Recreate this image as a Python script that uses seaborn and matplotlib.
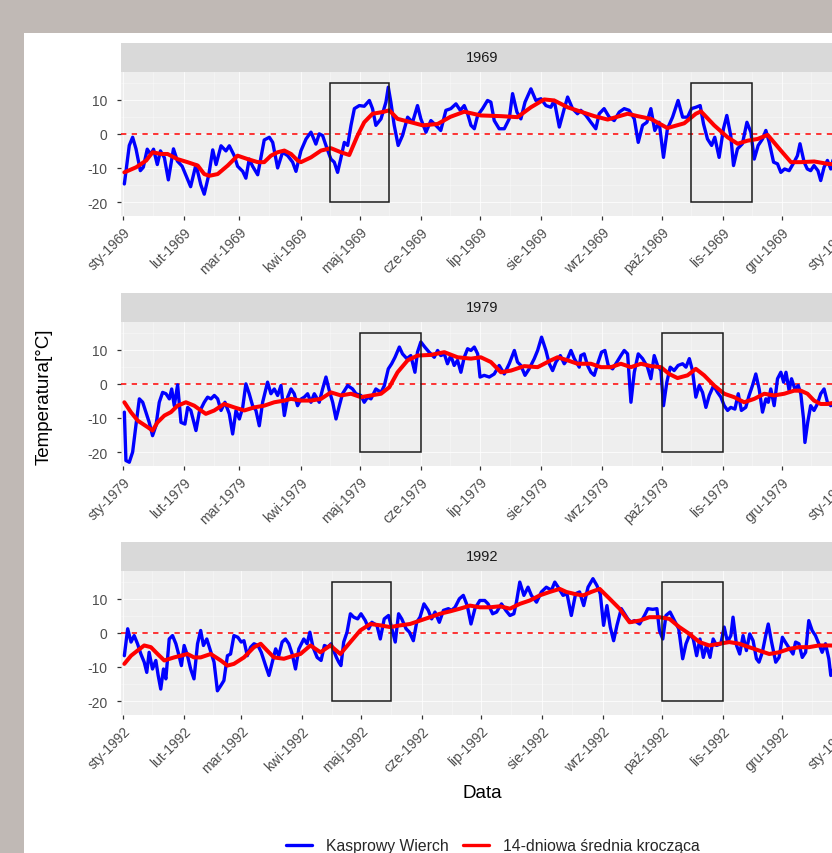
import numpy as np
import pandas as pd
import matplotlib
matplotlib.use("Agg")
import matplotlib.pyplot as plt
import matplotlib.dates as mdates
from matplotlib.patches import Rectangle
from matplotlib.lines import Line2D
import seaborn as sns

# ---------------------------------------------------------------------------
# Data: daily air temperature at Kasprowy Wierch (day offset from 1 January, °C)
# ---------------------------------------------------------------------------
years = [1969, 1979, 1992]
month_abbr = ["sty", "lut", "mar", "kwi", "maj", "cze",
              "lip", "sie", "wrz", "paź", "lis", "gru"]

doy_1969 = [0.7, 3.2, 4.9, 6.6, 8.8, 10.3, 12.3, 14.0, 15.5, 17.4, 19.0, 21.0, 23.0, 25.6,
            27.6, 30.0, 34.3, 37.0, 39.5, 41.2, 43.5, 45.5, 47.2, 49.7, 52.2, 53.9, 56.4,
            58.1, 60.7, 62.3, 64.0, 65.7, 68.3, 71.6, 74.2, 75.9, 78.4, 80.9, 83.5, 86.0,
            87.7, 90.2, 92.8, 95.3, 97.8, 99.5, 101.2, 102.9, 105.4, 107.1, 108.8, 110.2,
            112.2, 113.9, 115.6, 117.3, 119.8, 122.3, 124.9, 126.5, 128.2, 130.8, 133.3,
            134.5, 135.8, 137.5, 139.5, 141.7, 144.3, 146.8, 149.3, 151.0, 153.6, 156.1,
            158.6, 161.1, 163.7, 166.2, 168.8, 171.0, 173.0, 174.7, 176.4, 178.1, 179.8,
            182.3, 184.8, 186.5, 188.2, 190.7, 193.3, 195.8, 197.5, 199.7, 201.7, 203.8,
            206.8, 209.3, 211.9, 214.4, 216.9, 218.6, 221.2, 223.7, 225.4, 227.9, 230.4,
            232.1, 234.7, 237.2, 239.7, 241.4, 243.9, 246.5, 249.0, 251.6, 254.1, 256.6,
            259.2, 261.2, 263.4, 265.6, 267.6, 269.6, 271.8, 274.0, 276.0, 278.6, 281.4,
            283.7, 286.2, 288.2, 290.4, 292.6, 294.3, 296.3, 298.4, 300.0, 302.2, 304.4,
            306.1, 308.1, 309.5, 311.5, 314.0, 316.3, 318.3, 320.0, 322.0, 324.2, 325.9,
            327.6, 329.8, 331.8, 333.5, 335.4, 337.7, 340.2, 341.9, 343.2, 345.3, 346.9,
            348.6, 350.3, 352.3, 353.7, 355.4, 357.1, 358.8, 360.5, 362.5]
temp_1969 = [-14.7, -3.4, -1.0, -4.4, -10.8, -9.8, -4.5, -6.0, -4.5, -9.0, -5.0, -7.0, -13.5, -4.4,
             -8.0, -9.5, -15.5, -9.0, -15.0, -17.7, -12.0, -4.7, -9.0, -3.5, -5.0, -3.5, -6.4,
             -9.5, -11.0, -13.0, -7.4, -9.5, -12.0, -1.8, -1.0, -2.5, -10.0, -5.4, -6.4, -8.3,
             -11.0, -5.0, -1.5, 0.5, -3.0, 0.0, -0.5, -3.4, -7.4, -8.3, -11.3, -7.8,
             -2.5, -3.4, 2.5, 7.4, 8.3, 8.1, 9.8, 7.4, 2.5, 4.4, 9.3,
             13.7, 9.3, 2.5, -3.4, -0.5, 4.9, 3.4, 8.3, 4.4, 0.5, 3.9,
             2.5, 1.0, 6.9, 7.4, 8.8, 6.9, 8.3, 5.9, 2.5, 1.5, 5.4,
             7.4, 9.8, 9.3, 3.9, 1.5, 1.5, 4.4, 11.8, 6.4, 4.4, 9.3,
             13.2, 9.8, 10.3, 8.3, 7.8, 9.8, 2.0, 7.4, 10.8, 7.4, 5.9,
             6.9, 5.4, 3.4, 1.5, 5.9, 7.4, 4.9, 3.9, 6.4, 7.4, 6.9,
             4.4, -2.5, 2.5, 3.4, 7.4, 1.0, 3.4, -6.9, 1.5, 4.9, 9.8,
             4.9, 4.9, 7.4, 7.8, 8.3, 2.9, -1.5, -3.4, -1.0, -6.9, 1.5,
             5.4, -0.5, -9.3, -4.4, -2.9, 3.4, 0.5, -7.4, -3.4, -1.5, 1.0,
             -2.5, -8.3, -8.8, -11.3, -10.3, -10.8, -8.3, -6.4, -2.9, -8.3, -10.3,
             -10.8, -9.3, -10.8, -13.7, -9.8, -7.8, -10.3, -6.4, -8.0]

doy_1979 = [0.7, 1.5, 3.2, 4.9, 6.6, 8.3, 10.0, 11.6, 13.3, 15.0, 16.7, 18.4, 20.1, 21.8,
            23.5, 24.7, 26.0, 27.7, 29.4, 31.4, 32.8, 34.4, 37.0, 38.7, 41.2, 42.9, 44.6,
            46.3, 48.0, 49.7, 51.7, 53.9, 55.6, 57.3, 59.0, 60.7, 62.3, 64.0, 65.7, 67.4,
            69.1, 70.8, 73.3, 75.0, 76.7, 78.4, 80.1, 81.8, 83.5, 85.2, 86.8, 88.5, 90.2,
            91.9, 93.6, 95.3, 97.0, 99.5, 101.2, 102.9, 104.6, 106.3, 108.0, 109.7, 111.3,
            113.9, 116.4, 118.1, 120.6, 122.3, 124.0, 125.7, 128.2, 130.8, 132.5, 134.5,
            136.2, 137.9, 140.1, 141.7, 143.9, 145.9, 148.0, 149.3, 151.0, 153.0, 155.2,
            157.8, 159.5, 161.1, 162.9, 164.5, 166.2, 167.9, 169.6, 171.3, 173.0, 174.7,
            176.4, 178.1, 179.8, 181.0, 183.1, 185.7, 188.2, 190.7, 193.3, 195.8, 198.4,
            200.0, 201.7, 203.8, 205.9, 208.5, 210.2, 212.2, 214.4, 216.1, 217.8, 219.5,
            221.7, 223.7, 225.4, 227.1, 228.8, 231.3, 232.1, 233.8, 235.5, 237.2, 238.9,
            240.9, 242.6, 244.3, 246.0, 248.2, 250.4, 252.4, 254.1, 255.8, 257.5, 259.2,
            261.2, 263.4, 265.9, 267.6, 269.3, 271.0, 272.7, 274.0, 275.7, 277.4, 279.4,
            281.4, 283.7, 285.4, 287.1, 288.7, 290.4, 292.1, 293.8, 295.5, 297.2, 299.4,
            301.4, 303.1, 304.8, 306.5, 308.1, 310.2, 311.9, 313.5, 315.7, 317.4, 319.1,
            320.8, 322.5, 324.2, 325.9, 327.1, 328.4, 330.1, 331.8, 333.5, 334.9, 336.1,
            337.7, 338.9, 340.6, 342.3, 343.6, 345.0, 345.7, 347.1, 348.6, 350.3, 352.0,
            353.7, 355.4, 357.1, 358.8, 359.8, 361.5]
temp_1979 = [-8.3, -22.5, -23.0, -20.0, -12.0, -4.4, -5.4, -8.3, -11.3, -15.2, -12.3, -5.4, -2.5, -2.9,
             -4.4, -1.5, -6.4, -0.3, -11.3, -11.8, -6.9, -7.8, -13.7, -8.3, -5.4, -3.9, -4.4,
             -3.4, -4.4, -7.8, -5.4, -8.8, -14.7, -7.8, -10.3, -6.9, 0.0, -2.9, -6.4, -7.8,
             -12.3, -5.4, 0.5, -2.9, -1.5, -3.4, -0.5, -9.3, -3.9, -1.5, -2.9, -6.4, -4.5,
             -3.9, -2.9, -5.4, -2.9, -5.4, -1.5, 2.0, -2.0, -5.4, -10.3, -6.4, -2.9,
             -0.5, -1.5, -2.9, -3.4, -5.4, -3.9, -4.4, -1.5, -2.5, -0.5, 4.4,
             5.9, 7.8, 10.8, 8.8, 7.4, 8.3, 3.4, 9.3, 12.3, 10.8, 9.3,
             7.8, 9.8, 8.3, 8.8, 5.9, 8.3, 5.4, 6.9, 3.4, 7.8, 10.3,
             9.8, 10.8, 8.8, 2.0, 2.5, 2.0, 2.9, 5.4, 2.9, 5.9, 9.8,
             6.4, 5.4, 2.5, 4.4, 7.4, 9.8, 13.7, 9.8, 5.9, 3.9, 6.4,
             8.3, 5.9, 7.4, 9.8, 7.4, 4.9, 8.3, 8.8, 5.4, 3.4, 2.5,
             6.4, 9.3, 9.8, 5.4, 4.4, 6.4, 8.3, 9.8, 8.8, -5.4, 3.4,
             8.8, 7.4, 4.9, 1.5, 8.3, 5.4, 3.9, -6.4, 0.5, 4.9, 3.9,
             5.4, 5.9, 4.9, 7.4, 3.9, -3.9, -0.5, -2.5, -6.9, -3.4, -0.5,
             -2.5, -3.9, -6.4, -7.8, -6.9, -7.4, -2.9, -7.8, -6.9, -3.4, -0.5,
             2.9, -1.5, -8.3, -4.4, -5.4, -1.5, -6.4, 1.5, 3.4, 0.5, 3.4,
             -2.0, 1.5, -1.5, -0.5, -2.9, -10.3, -17.2, -11.3, -6.4, -7.8, -5.9,
             -2.9, -1.5, -5.4, -6.4, -5.9, -5.0]

doy_1992 = [0.7, 2.4, 4.1, 5.7, 7.4, 9.1, 10.8, 12.1, 13.3, 15.0, 16.7, 17.9, 19.2, 20.6,
            21.8, 23.5, 25.2, 26.9, 28.5, 29.7, 31.1, 32.8, 34.4, 36.1, 37.9, 39.5, 40.9,
            42.6, 44.2, 46.3, 48.0, 49.7, 51.3, 53.1, 54.7, 56.4, 58.4, 60.1, 61.5, 63.2,
            64.9, 66.6, 68.6, 70.3, 72.5, 74.2, 75.9, 77.6, 79.2, 80.9, 82.6, 84.3, 86.0,
            87.7, 89.4, 91.9, 93.6, 95.0, 96.6, 98.7, 100.7, 102.4, 104.1, 105.8, 107.1,
            108.5, 109.7, 110.8, 112.2, 113.9, 115.6, 117.3, 119.3, 121.0, 123.2, 124.9,
            126.5, 129.1, 130.8, 132.8, 135.0, 136.7, 138.4, 140.1, 141.7, 143.9, 145.6,
            147.6, 149.3, 151.0, 153.0, 155.2, 156.9, 158.6, 160.8, 162.9, 165.4, 167.0,
            168.8, 171.0, 173.0, 175.0, 176.9, 178.9, 181.4, 183.9, 185.6, 187.9, 189.9,
            192.4, 194.6, 196.7, 198.7, 200.0, 201.7, 203.8, 205.9, 207.6, 210.2, 212.7,
            215.2, 217.8, 219.5, 221.2, 223.7, 225.7, 227.9, 230.1, 232.1, 234.2, 236.4,
            238.9, 240.9, 242.6, 244.3, 246.0, 247.7, 249.4, 251.1, 253.3, 255.0, 256.6,
            258.3, 260.0, 262.6, 265.1, 266.8, 269.3, 271.4, 272.7, 274.4, 276.0, 278.1,
            280.3, 282.5, 284.5, 286.2, 288.2, 289.9, 291.6, 293.3, 295.0, 296.6, 298.4,
            300.0, 301.7, 303.9, 305.6, 307.3, 309.0, 310.1, 311.9, 313.5, 315.2, 316.9,
            318.6, 320.3, 322.0, 323.3, 325.0, 326.7, 328.0, 329.7, 331.8, 333.5, 335.2,
            337.2, 338.9, 340.6, 341.9, 343.6, 345.3, 347.0, 348.6, 350.3, 352.0, 353.7,
            355.4, 357.1, 358.8, 359.8, 361.5]
temp_1992 = [-6.7, 1.2, -2.7, -0.8, -3.2, -6.2, -8.6, -11.6, -5.7, -10.6, -8.1, -12.5, -16.5, -10.6,
             -13.5, -1.8, -0.8, -3.2, -6.7, -9.6, -3.7, -6.7, -10.6, -13.5, -3.2, 0.7, -3.7,
             -1.8, -4.7, -8.6, -17.0, -15.5, -14.0, -6.7, -6.2, -0.8, -1.3, -2.7, -2.3, -6.7,
             -4.2, -3.2, -3.7, -5.7, -9.6, -12.5, -8.6, -4.7, -6.7, -2.7, -1.8, -3.2, -6.2,
             -10.6, -4.7, -1.8, -3.2, 0.2, -4.2, -7.2, -8.1, -3.7, -4.2, -3.2, -5.2,
             -7.2, -8.6, -9.6, -2.7, 0.2, 5.6, 4.6, 4.1, 5.6, 3.6, 1.2,
             3.1, 2.2, -1.8, 4.1, 5.1, 1.2, -2.7, 5.6, 4.1, 1.2, 0.2,
             -2.3, 3.1, 4.6, 8.5, 6.6, 4.1, 6.1, 3.1, 6.6, 7.1, 6.6,
             7.5, 10.0, 11.0, 8.0, 2.6, 7.1, 9.5, 9.5, 8.5, 5.6, 6.1,
             8.5, 6.6, 5.1, 5.6, 9.0, 14.9, 11.0, 13.4, 11.0, 9.0, 12.0,
             13.4, 12.5, 14.9, 13.4, 11.0, 11.5, 5.1, 11.5, 12.0, 8.0, 13.4,
             15.9, 13.9, 11.5, 2.2, 8.0, 1.7, -2.3, 2.2, 7.1, 5.6, 4.1,
             3.1, 3.6, 2.6, 5.1, 7.1, 6.9, 7.1, 0.7, -1.8, 5.1, 6.1,
             3.6, 1.2, -7.6, -3.2, -0.3, -1.8, -6.7, -1.8, -7.2, -3.7, -7.2,
             -1.8, -3.7, -3.2, 1.7, -2.7, -0.8, 4.6, -3.7, -6.2, -0.8, -5.2,
             -0.3, -2.3, -7.6, -8.6, -5.7, -0.8, 2.6, -2.7, -8.6, -7.2, -1.3,
             -3.2, -4.7, -6.2, -2.7, -3.2, -7.2, -5.7, 3.6, 0.7, -0.8, -3.2,
             -5.7, -3.2, -7.6, -12.5, -10.0]

# 14-day moving average
ma_doy_1969 = [0.7, 6.7, 11.8, 15.0, 19.2, 22.6, 27.6, 32.7, 37.9, 41.2, 43.8, 48.0, 53.1, 58.1,
               63.2, 68.3, 71.6, 75.0, 78.4, 81.8, 85.2, 88.5, 90.2, 95.3, 100.4, 105.4, 110.5,
               114.7, 118.9, 122.3, 126.5, 131.6, 135.0, 139.2, 146.0, 151.9, 159.5, 166.0,
               173.0, 181.4, 191.6, 200.0, 206.8, 213.5, 218.6, 225.4, 232.1, 238.9, 245.7,
               255.8, 260.9, 267.6, 276.0, 284.5, 290.4, 293.0, 299.7, 306.5, 311.6, 316.6,
               321.7, 326.8, 333.5, 338.6, 343.6, 350.4, 357.2, 362.5]
ma_1969 = [-11.3, -9.8, -7.8, -5.4, -5.9, -5.9, -7.4, -8.3, -9.3, -11.8, -12.3, -11.8, -9.3, -6.4,
           -7.4, -8.3, -8.3, -6.4, -5.4, -4.9, -5.9, -7.8, -8.3, -6.9, -4.9, -4.2, -5.4,
           -6.2, -0.5, 3.4, 5.9, 6.4, 6.9, 4.4, 3.4, 2.5, 2.9, 5.0,
           6.5, 5.4, 5.2, 4.9, 7.8, 10.1, 9.8, 7.8, 6.5, 5.2, 4.2,
           5.9, 5.2, 4.4, 1.7, 3.1, 5.9, 6.6, 2.5, -1.0, -2.9, -2.0,
           -1.5, -0.3, -4.9, -8.3, -8.3, -8.1, -8.8, -9.0]

ma_doy_1979 = [0.7, 4.0, 7.5, 12.5, 15.0, 17.5, 21.0, 24.3, 27.7, 31.9, 36.1, 39.5, 42.0, 46.3,
               51.3, 56.4, 61.5, 66.6, 71.6, 76.7, 81.8, 85.2, 90.2, 95.3, 100.4, 105.4, 110.5,
               115.6, 120.6, 125.7, 130.8, 135.0, 139.2, 144.3, 149.3, 156.1, 162.9, 169.6,
               176.4, 181.4, 186.5, 191.6, 196.7, 203.4, 210.2, 216.9, 220.3, 225.4, 230.4,
               237.2, 242.3, 247.4, 252.4, 257.5, 262.6, 267.6, 272.7, 276.9, 281.1, 286.2,
               290.4, 294.6, 299.7, 304.8, 309.8, 314.9, 320.0, 325.1, 330.1, 335.2, 340.2,
               343.6, 347.0, 350.3, 353.7, 357.1, 359.8, 362.0]
ma_1979 = [-5.4, -8.3, -10.8, -12.7, -13.7, -11.3, -9.3, -8.3, -6.4, -5.4, -6.4, -7.8, -8.8, -7.8,
           -5.9, -6.9, -7.8, -6.9, -6.4, -5.4, -4.9, -4.4, -4.9, -4.9, -4.4, -2.5, -3.4,
           -2.9, -3.9, -3.4, -2.9, -1.0, 3.4, 6.9, 8.3, 8.5, 9.3, 7.8,
           7.4, 7.8, 6.4, 3.4, 3.9, 5.2, 4.9, 6.9, 7.8, 6.9, 5.9,
           5.9, 4.9, 4.9, 5.9, 4.9, 5.9, 5.2, 4.9, 2.9, 1.7, 2.5,
           4.4, 2.5, -0.5, -2.9, -3.9, -5.4, -4.4, -2.9, -3.4, -2.9, -2.0,
           -2.0, -2.9, -4.9, -5.9, -5.9, -5.6, -5.5]

ma_doy_1992 = [0.7, 4.1, 7.4, 10.8, 14.2, 17.6, 21.0, 26.0, 29.4, 32.8, 36.1, 39.5, 44.6, 49.7,
               53.1, 56.4, 61.5, 66.6, 70.0, 73.3, 76.7, 81.8, 86.8, 90.2, 95.3, 100.4, 105.4,
               110.5, 115.6, 120.6, 125.7, 130.8, 135.8, 140.9, 145.9, 151.0, 156.1, 161.1,
               166.2, 171.3, 176.4, 181.4, 186.5, 191.6, 196.7, 201.7, 206.8, 211.9, 216.9,
               222.0, 225.4, 230.4, 234.0, 238.0, 242.3, 247.4, 252.4, 257.5, 262.6, 267.6,
               272.7, 277.8, 282.8, 287.9, 293.0, 298.0, 303.1, 308.2, 313.3, 318.3, 323.4,
               328.5, 333.5, 338.6, 343.6, 348.7, 353.7, 359.8, 362.0]
ma_1992 = [-9.1, -6.7, -5.2, -3.7, -4.2, -6.2, -8.1, -7.2, -6.7, -6.2, -7.2, -7.2, -6.2, -8.1,
           -9.6, -9.1, -7.2, -4.2, -3.2, -5.2, -7.2, -7.6, -6.7, -6.2, -3.7, -5.7, -3.7,
           -6.2, -2.7, 0.7, 2.6, 2.2, 1.7, 2.2, 2.6, 3.6, 4.6, 5.6,
           6.3, 7.1, 8.0, 7.5, 7.5, 7.8, 7.1, 8.5, 9.5, 11.0, 12.0,
           12.9, 12.0, 11.3, 11.0, 12.0, 12.9, 10.0, 7.1, 3.1, 3.6, 4.6,
           4.6, 4.1, 1.7, -0.3, -2.7, -3.7, -3.2, -2.7, -3.2, -4.2, -5.2,
           -6.2, -5.7, -4.7, -4.2, -4.2, -3.7, -3.7, -3.8]

series = {
    1969: (doy_1969, temp_1969, ma_doy_1969, ma_1969),
    1979: (doy_1979, temp_1979, ma_doy_1979, ma_1979),
    1992: (doy_1992, temp_1992, ma_doy_1992, ma_1992),
}

# Seasonal transition windows highlighted on each panel
window_starts = {1969: ["1969-04-16", "1969-10-16"],
                 1979: ["1979-05-01", "1979-10-01"],
                 1992: ["1992-04-16", "1992-10-01"]}
window_ends = {1969: ["1969-05-16", "1969-11-16"],
               1979: ["1979-06-01", "1979-11-01"],
               1992: ["1992-05-16", "1992-11-01"]}
window_low, window_high = -20, 15

# ---------------------------------------------------------------------------
# Styling
# ---------------------------------------------------------------------------
sns.set_theme(style="darkgrid", rc={"axes.facecolor": "#ececec",
                                    "grid.color": "white"})
plt.rcParams["font.family"] = ["Liberation Sans", "DejaVu Sans"]
plt.rcParams["axes.unicode_minus"] = False

W, H = 832, 854
fig = plt.figure(figsize=(W / 100, H / 100), dpi=100, facecolor="#c0b9b5")
fig.patches.append(Rectangle((24 / W, 0), 1.0, 1 - 34 / H, transform=fig.transFigure,
                             facecolor="white", edgecolor="none", zorder=-10))


def px_box(left, top, width, height):
    return [left / W, 1 - (top + height) / H, width / W, height / H]


def month_label(x, pos=None):
    d = mdates.num2date(x)
    return f"{month_abbr[d.month - 1]}-{d.year}"


panel_tops = [73, 323, 572]
panel_h, strip_h = 144, 29
ax_left, ax_w = 121, 722
tick_grey = "#4d4d4d"

for year, top in zip(years, panel_tops):
    doy, temp, ma_doy, ma = series[year]
    jan1 = pd.Timestamp(f"{year}-01-01")
    daily = pd.DataFrame({
        "date": jan1 + pd.to_timedelta(np.array(doy), unit="D"),
        "temp": temp,
    })
    smooth = pd.DataFrame({
        "date": jan1 + pd.to_timedelta(np.array(ma_doy), unit="D"),
        "temp": ma,
    })

    ax = fig.add_axes(px_box(ax_left, top, ax_w, panel_h))
    ax.set_facecolor("#eeeeee")
    ax.set_axisbelow(True)

    ax.axhline(0, color="red", lw=1.1, ls=(0, (3.5, 3.5)), zorder=2)
    sns.lineplot(data=daily, x="date", y="temp", ax=ax, color="blue",
                 linewidth=2.4, estimator=None, sort=False, zorder=3)
    sns.lineplot(data=smooth, x="date", y="temp", ax=ax, color="red",
                 linewidth=2.9, estimator=None, sort=False, zorder=4)

    for s, e in zip(window_starts[year], window_ends[year]):
        x0 = mdates.date2num(pd.Timestamp(s))
        x1 = mdates.date2num(pd.Timestamp(e))
        ax.add_patch(Rectangle((x0, window_low), x1 - x0, window_high - window_low,
                               facecolor="none", edgecolor="#1a1a1a", lw=1.1, zorder=5))

    ax.set_xlim(jan1 - pd.Timedelta(days=1), pd.Timestamp(f"{year + 1}-01-01"))
    ax.set_ylim(-24.1, 18.15)
    ax.set_yticks([-20, -10, 0, 10])
    ax.set_yticks([-15, -5, 5, 15], minor=True)
    ax.xaxis.set_major_locator(mdates.MonthLocator())
    ax.xaxis.set_minor_locator(mdates.MonthLocator(bymonthday=16))
    ax.xaxis.set_major_formatter(plt.FuncFormatter(month_label))
    ax.grid(which="major", color="white", lw=0.8, alpha=0.75)
    ax.grid(which="minor", color="white", lw=0.4, alpha=0.6)
    ax.set_xlabel("")
    ax.set_ylabel("")
    for sp in ax.spines.values():
        sp.set_visible(False)

    ax.tick_params(axis="both", which="major", length=3.2, width=0.9, color="#333333",
                   labelcolor=tick_grey, labelsize=10, bottom=True, left=True)
    ax.tick_params(axis="y", which="major", pad=6.5)
    ax.tick_params(axis="x", which="major", pad=3)
    ax.tick_params(which="minor", length=0)
    for lab in ax.get_xticklabels():
        lab.set_rotation(45)
        lab.set_ha("right")
        lab.set_va("top")
        lab.set_rotation_mode("anchor")

    strip = fig.add_axes(px_box(ax_left, top - strip_h, ax_w, strip_h))
    strip.set_facecolor("#d9d9d9")
    strip.set_xticks([])
    strip.set_yticks([])
    strip.grid(False)
    for sp in strip.spines.values():
        sp.set_visible(False)
    strip.text(0.5, 0.5, str(year), transform=strip.transAxes, ha="center",
               va="center", fontsize=10.5, color="#1a1a1a")

fig.text(44 / W, 1 - 397 / H, "Temperatura[°C]", rotation=90, ha="center",
         va="center", fontsize=13.5, color="black")
fig.text(482 / W, 1 - 794 / H, "Data", ha="center", va="center",
         fontsize=13.5, color="black")

handles = [Line2D([], [], color="blue", lw=2.4), Line2D([], [], color="red", lw=2.4)]
fig.legend(handles, ["Kasprowy Wierch", "14-dniowa średnia krocząca"], loc="center",
           bbox_to_anchor=(493 / W, 1 - 847 / H), ncol=2, frameon=False,
           fontsize=11.3, handlelength=1.65, handletextpad=0.9, columnspacing=0.95,
           borderpad=0, borderaxespad=0)

fig.savefig("out.png", dpi=100, facecolor=fig.get_facecolor())
